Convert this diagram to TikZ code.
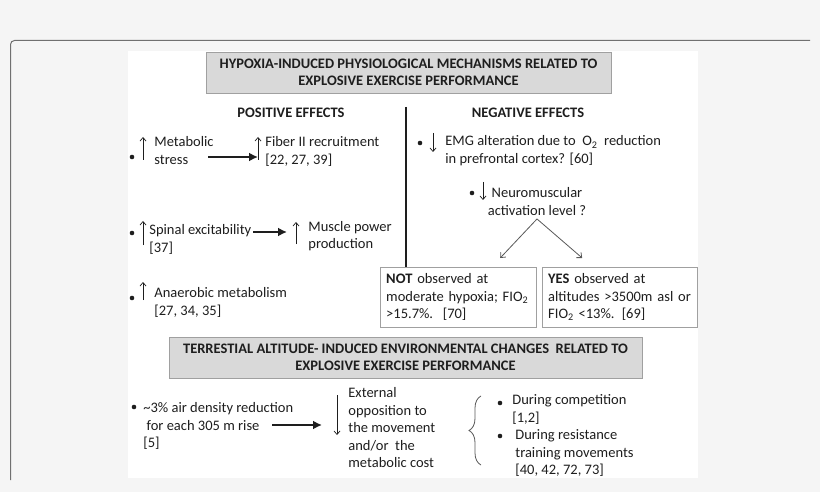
\documentclass[tikz,border=0pt]{standalone}
\usepackage{fontspec}
\setmainfont{Carlito}
\usetikzlibrary{arrows, arrows.meta, decorations.pathreplacing}
\definecolor{pagebg}{HTML}{F5F5F5}
\definecolor{framegray}{HTML}{707070}
\definecolor{headfill}{HTML}{D9D9D9}
\definecolor{headline}{HTML}{A0A0A0}
\definecolor{ink}{HTML}{1E1E1E}

\begin{document}
\begin{tikzpicture}[x=1pt,y=-1pt,thick,font=\fontsize{14.5}{17.5}\selectfont,text=ink]

\tikzstyle{head}=[rectangle, thin, draw=headline, fill=headfill, align=center, font=\fontsize{14.5}{17.5}\selectfont\bfseries, minimum height=41pt]
\tikzstyle{effect}=[anchor=base, inner sep=0pt, font=\fontsize{14.5}{17.5}\selectfont\bfseries]
\tikzstyle{txt}=[anchor=north west, inner sep=0pt, align=left]
\tikzstyle{res}=[rectangle, thin, draw=headline, anchor=north west, inner sep=6pt, align=left, minimum height=60pt]
\tikzstyle{bigarr}=[-{Latex[length=9pt,width=9pt]}, line width=2.4pt, ink]
\tikzstyle{uarr}=[-{Straight Barb[length=3.5pt,width=6pt]}, line width=0.7pt, ink]
\tikzstyle{garr}=[-{Straight Barb[length=4pt,width=7pt]}, line width=0.8pt, black!65]

	% page and panel
	\fill[pagebg] (0,0) rectangle (820,492);
	\fill[white] (128,51) rectangle (698,478);
	\draw[framegray, line width=1pt, rounded corners=4pt] (10.5,480) |- (810,40.5);

	\node[head, minimum width=405pt] (h1) at (408.5,72.5) {HYPOXIA-INDUCED PHYSIOLOGICAL MECHANISMS RELATED TO\\EXPLOSIVE EXERCISE PERFORMANCE};
	\node[effect] (pos) at (291,118) {POSITIVE EFFECTS};
	\node[effect] (neg) at (528,118) {NEGATIVE EFFECTS};

	% positive effects
	\node[txt] (pm1) at (154,136.5) {Metabolic\\stress};
	\node[txt] (pm2) at (265,136.5) {Fiber II recruitment\\{[22, 27, 39]}};
	\node[txt] (pm3) at (149,224.5) {Spinal excitability\\{[37]}};
	\node[txt] (pm4) at (308,221) {Muscle power\\production};
	\node[txt] (pm5) at (154,287.5) {Anaerobic metabolism\\{[27, 34, 35]}};

	% negative effects
	\node[txt] (ng1) at (445,135.5) {EMG alteration due to\ \ O\textsubscript{2}\ \ reduction\\in prefrontal cortex? [60]};
	\node[txt, anchor=north, align=center] (ng2) at (537,187.5) {Neuromuscular\\activation level ?};
	\node[res, text width=144pt] (nb) at (380,267) {\textbf{NOT} observed at\\moderate hypoxia; FIO\textsubscript{2}\\>15.7\%.\ \ [70]};
	\node[res, text width=143pt] (yb) at (542,267) {\textbf{YES} observed at\\altitudes >3500m asl or\\FIO\textsubscript{2} <13\%. [69]};

	\node[head, minimum width=473pt] (h2) at (405.5,357.5) {TERRESTIAL ALTITUDE- INDUCED ENVIRONMENTAL CHANGES\ \ RELATED TO\\EXPLOSIVE EXERCISE PERFORMANCE};

	% environmental changes
	\node[txt] (ex1) at (143,402.5) {\textasciitilde3\% air density reduction\\\ for each 305 m rise\\{[5]}};
	\node[txt] (ex2) at (348,387.5) {External\\opposition to\\the movement\\and/or\ \ the\\metabolic cost};
	\node[txt] (ex3) at (512,394.5) {During competition\\{[1,2]}};
	\node[txt] (ex4) at (515,429.5) {During resistance\\training movements\\{[40, 42, 72, 73]}};

	% bullets
	\fill[ink] (132,157) circle (2.3pt);
	\fill[ink] (132,233) circle (2.3pt);
	\fill[ink] (132,298) circle (2.3pt);
	\fill[ink] (420,143) circle (2.3pt);
	\fill[ink] (472,193) circle (2.3pt);
	\fill[ink] (134,407) circle (2.3pt);
	\fill[ink] (500,403) circle (2.3pt);
	\fill[ink] (500,436) circle (2.3pt);

	% up and down marks
	\draw[uarr] (143,160) -- (143,137);
	\draw[uarr] (258,160) -- (258,137);
	\draw[uarr] (143,245) -- (143,221);
	\draw[uarr] (296,244) -- (296,222);
	\draw[uarr] (143,300) -- (143,282);
	\draw[uarr] (433,133) -- (433,152);
	\draw[uarr] (483,182) -- (483,200);
	\draw[uarr] (337,395) -- (337,435);

	% links
	\coordinate (a1) at (208,157);
	\coordinate (a2) at (253,232);
	\coordinate (a3) at (272,425);
	\draw[bigarr, shorten >=7pt] (a1) -- (a1 -| pm2.west);
	\draw[bigarr, shorten >=21pt] (a2) -- (a2 -| pm4.west);
	\draw[bigarr, shorten >=26pt] (a3) -- (a3 -| ex2.west);

	\coordinate (sep) at (406,107);
	\draw[line width=2pt, ink] (sep) -- (sep |- nb.north);
	\draw[garr] ([yshift=-3pt]ng2.south) -- ([shift={(42pt,9pt)}]nb.north);
	\draw[garr] ([yshift=-3pt]ng2.south) -- ([shift={(-37.5pt,9pt)}]yb.north);

	\coordinate (bt) at (481,396);
	\coordinate (bb) at (481,465);
	\draw[decorate, decoration={brace, amplitude=12pt}, line width=0.8pt, black!65] (bb) -- (bt);
\end{tikzpicture}
\end{document}
